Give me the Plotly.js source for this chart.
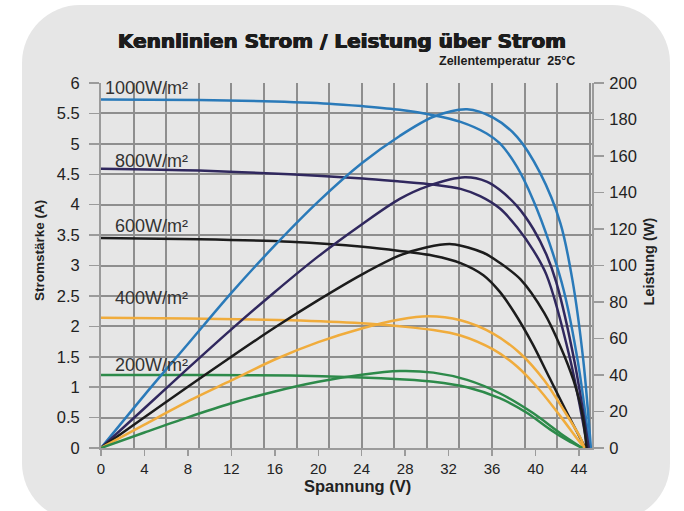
<!DOCTYPE html>
<html><head><meta charset="utf-8">
<script src="https://cdn.plot.ly/plotly-3.0.1.min.js"></script>
<style>
html,body{margin:0;padding:0;background:#ffffff;width:684px;height:511px;overflow:hidden;}
#bg{position:absolute;left:22px;top:5px;width:648px;height:516px;background:#e6e6e6;border-radius:58px;}
#chart{position:absolute;left:0;top:0;width:684px;height:511px;}
</style></head>
<body><div id="bg"></div><div id="chart"></div>
<script>
// Irradiance labels
const labels = ['1000W/m²', '800W/m²', '600W/m²', '400W/m²', '200W/m²'];

// Current (A) vs voltage (V)
const iv1000V = [0, 9, 15, 21, 24, 27.5, 30.6, 33.1, 35.5, 36.7, 38.3, 39.8, 41.3, 42.6, 43.9, 45.0];
const iv1000I = [5.73, 5.72, 5.70, 5.66, 5.62, 5.56, 5.47, 5.36, 5.17, 5.01, 4.62, 4.07, 3.36, 2.59, 1.42, 0];
const iv800V = [0, 9, 17.4, 24.1, 27.5, 30.6, 33.1, 34.9, 36.7, 38.3, 39.8, 41.0, 43.2, 44.8];
const iv800I = [4.59, 4.56, 4.50, 4.43, 4.38, 4.33, 4.26, 4.14, 3.94, 3.63, 3.25, 2.85, 1.45, 0];
const iv600V = [0, 9, 17.4, 24.1, 27.5, 30.6, 33.1, 35.2, 36.7, 38.0, 39.7, 41.3, 42.9, 44.6];
const iv600I = [3.45, 3.43, 3.39, 3.31, 3.24, 3.16, 3.04, 2.84, 2.57, 2.24, 1.72, 1.15, 0.58, 0];
const iv400V = [0, 8, 17.4, 24, 27.5, 30.6, 33.1, 36.1, 38.3, 40.4, 42.3, 43.8, 44.5];
const iv400I = [2.14, 2.13, 2.10, 2.05, 2.00, 1.94, 1.85, 1.62, 1.34, 0.95, 0.52, 0.16, 0];
const iv200V = [0, 10, 17.4, 24, 27.5, 30.6, 33.7, 36.7, 39.2, 41.3, 43.0, 44.3];
const iv200I = [1.20, 1.20, 1.19, 1.16, 1.13, 1.09, 1.00, 0.82, 0.58, 0.31, 0.12, 0];

// Power (W) vs voltage (V)
const p1000V = [0, 4, 8, 12, 16, 20, 24, 27.5, 30.6, 33.7, 36.1, 38.3, 40.4, 42.3, 43.4, 44.4, 45.1];
const p1000W = [0, 29, 57, 85, 111, 135, 156, 171, 181.5, 185.6, 181, 170.5, 151, 123, 92, 48, 0];
const p800V = [0, 4, 8, 12, 16, 20, 24, 27.5, 30.1, 33.5, 35.5, 36.7, 38.3, 39.8, 41.0, 41.9, 43.6, 44.9];
const p800W = [0, 21.8, 43.6, 65, 85.5, 105, 122.5, 136.5, 143.5, 148.3, 146, 141.5, 132.5, 120, 106, 91, 47, 0];
const p600V = [0, 4, 8, 12, 16, 20, 24, 27.5, 30, 32.3, 35.2, 36.7, 38.6, 40.8, 42.3, 43.5, 44.3, 44.7];
const p600W = [0, 16.8, 33.6, 50, 66, 81, 95, 105.5, 110, 111.7, 107, 101.5, 92.5, 74, 55.5, 37, 18.9, 0];
const p400V = [0, 4, 8, 12, 16, 20, 24, 27.5, 30.1, 33.1, 36.1, 38.6, 40.8, 42.6, 44.1, 44.5];
const p400W = [0, 12.8, 25.5, 37, 48.5, 58, 65.5, 70.4, 72.2, 70.0, 62.7, 51.8, 37.1, 20.7, 6.0, 0];
const p200V = [0, 4, 8, 12, 16, 20, 24, 27.5, 30.6, 33.7, 36.7, 39.8, 42.3, 44.3];
const p200W = [0, 8.5, 16.8, 24.5, 31, 36.3, 40.2, 42.2, 41.3, 37.3, 30, 19, 8, 0];

const colors = ['#2a7ab9', '#30285e', '#1c1c1c', '#f0ac3c', '#2d8a4a'];

const ivSets = [[iv1000V, iv1000I], [iv800V, iv800I], [iv600V, iv600I], [iv400V, iv400I], [iv200V, iv200I]];
const pSets = [[p1000V, p1000W], [p800V, p800W], [p600V, p600W], [p400V, p400W], [p200V, p200W]];

const traces = [];
traces.push({x: [null], y: [null], xaxis: 'x2', yaxis: 'y', mode: 'lines', hoverinfo: 'skip', showlegend: false});
ivSets.forEach((s, i) => traces.push({
  x: s[0], y: s[1], mode: 'lines', xaxis: 'x', yaxis: 'y',
  line: {color: colors[i], width: 2.5, shape: 'spline', smoothing: 0.85}, name: labels[i], showlegend: false
}));
pSets.forEach((s, i) => traces.push({
  x: s[0], y: s[1], mode: 'lines', xaxis: 'x', yaxis: 'y2',
  line: {color: colors[i], width: 2.5, shape: 'spline', smoothing: 0.85}, name: labels[i] + ' P', showlegend: false
}));

const F = 'Liberation Sans, Arial, sans-serif';
const axisGray = '#9b9b9b';
const gridGray = '#8e8e8e';
const l = 101, r = 92.3, t = 83, b = 63.3;
const ph = 511 - t - b, pw = 684 - l - r;
const px2x = p => (p - l) / pw;
const py2y = p => (511 - b - p) / ph;

const labelPos = [[0.16, 5.91], [1.13, 4.71], [1.13, 3.65], [1.13, 2.46], [1.13, 1.36]];
const annotations = labels.map((txt, i) => ({
  text: txt, x: labelPos[i][0], y: labelPos[i][1], xref: 'x', yref: 'y',
  xanchor: 'left', yanchor: 'middle', showarrow: false,
  font: {family: F, size: 18, color: '#333333'}
}));
annotations.push({text: 'Zellentemperatur\u00a0 25°C', x: px2x(577), y: py2y(61.5), xref: 'paper', yref: 'paper',
  xanchor: 'right', yanchor: 'middle', showarrow: false, font: {family: F, size: 12.5, color: '#1c1c1c', weight: 'bold'}});
annotations.push({text: 'Stromstärke (A)', x: px2x(39), y: py2y(250), xref: 'paper', yref: 'paper', textangle: -90,
  xanchor: 'center', yanchor: 'middle', showarrow: false, font: {family: F, size: 13.5, color: '#222', weight: 'bold'}});
annotations.push({text: 'Leistung (W)', x: px2x(649), y: py2y(261), xref: 'paper', yref: 'paper', textangle: -90,
  xanchor: 'center', yanchor: 'middle', showarrow: false, font: {family: F, size: 14.5, color: '#222', weight: 'bold'}});
annotations.push({text: 'Spannung (V)', x: px2x(357.5), y: py2y(486), xref: 'paper', yref: 'paper',
  xanchor: 'center', yanchor: 'middle', showarrow: false, font: {family: F, size: 16.5, color: '#222', weight: 'bold'}});

const layout = {
  width: 684, height: 511,
  margin: {l: l, r: r, t: t, b: b, pad: 0},
  paper_bgcolor: 'rgba(0,0,0,0)', plot_bgcolor: 'rgba(0,0,0,0)',
  showlegend: false,
  title: {text: 'Kennlinien Strom / Leistung über Strom', x: 342 / 684, xref: 'container', xanchor: 'center',
    y: 1 - 40.5 / 511, yref: 'container', yanchor: 'middle',
    font: {family: 'DejaVu Sans, sans-serif', size: 20, color: '#1c1c1c', weight: 'bold',
      shadow: '0.6px 0 0 #1c1c1c, -0.6px 0 0 #1c1c1c, 0 0.4px 0 #1c1c1c'}},
  xaxis: {range: [0, 45.2], tick0: 0, dtick: 4, ticks: 'outside', ticklen: 6, tickwidth: 1.5, tickcolor: axisGray,
    showgrid: false, zeroline: false, showline: true, linecolor: axisGray, linewidth: 2,
    tickfont: {family: F, size: 15, color: '#222'}, fixedrange: true},
  xaxis2: {range: [0, 45.2], tick0: 0, dtick: 3, overlaying: 'x', anchor: 'y', side: 'top',
    showgrid: true, gridcolor: gridGray, gridwidth: 2, showticklabels: false, ticks: '',
    showline: false, zeroline: false, fixedrange: true},
  yaxis: {range: [0, 6], tick0: 0, dtick: 0.5, ticks: 'outside', ticklen: 10, tickwidth: 1.5, tickcolor: axisGray,
    showgrid: true, gridcolor: gridGray, gridwidth: 2, zeroline: false, showline: true, linecolor: axisGray, linewidth: 2,
    tickfont: {family: F, size: 16.5, color: '#222'}, ticklabelstandoff: 6, fixedrange: true},
  yaxis2: {range: [0, 200], tick0: 0, dtick: 20, overlaying: 'y', side: 'right', anchor: 'x',
    ticks: 'outside', ticklen: 10, tickwidth: 1.5, tickcolor: axisGray,
    showgrid: false, zeroline: false, showline: true, linecolor: axisGray, linewidth: 2,
    tickfont: {family: F, size: 16.5, color: '#222'}, ticklabelstandoff: 2, fixedrange: true},
  annotations: annotations
};

Plotly.newPlot('chart', traces, layout, {displayModeBar: false, staticPlot: true});
</script>
</body></html>
